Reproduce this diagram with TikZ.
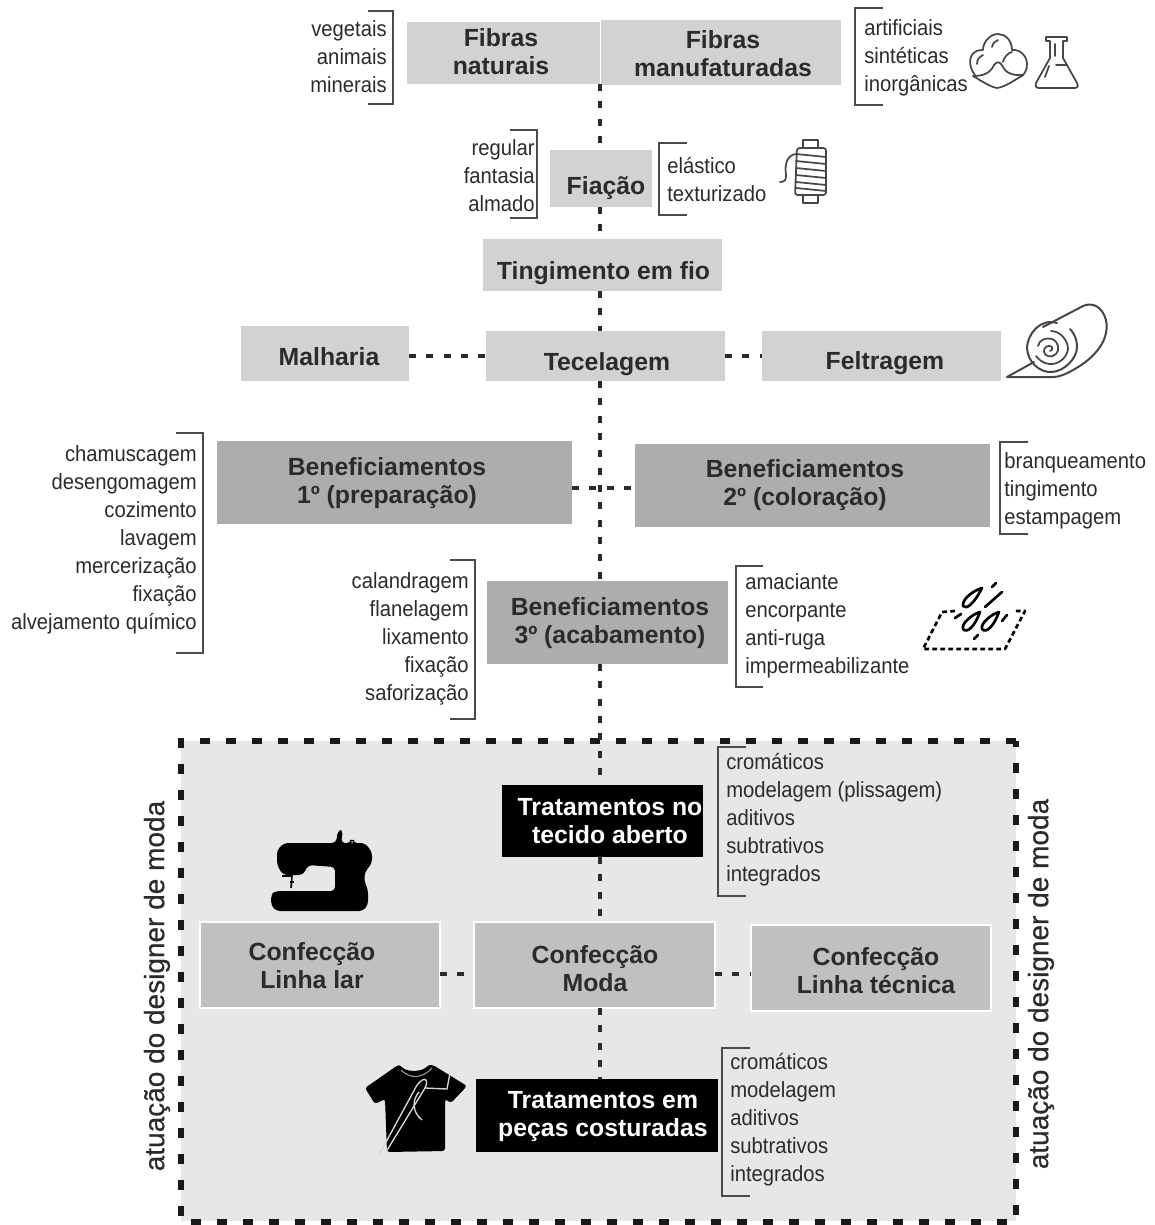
\documentclass[tikz,border=0pt]{standalone}
\usepackage{fontspec}
\setmainfont{Liberation Sans}
\newfontfamily\labfont[FakeStretch=0.92]{Liberation Sans}
\newfontfamily\sidefont[FakeBold=0.5]{Liberation Sans}
\usetikzlibrary{calc}
\definecolor{inkc}{HTML}{2B2B2B}
\definecolor{lightg}{HTML}{D2D2D2}
\definecolor{midg}{HTML}{ADADAD}
\definecolor{confg}{HTML}{C0C0C0}
\definecolor{panelg}{HTML}{E8E7E7}
\definecolor{iconc}{HTML}{4A4542}
\newcommand{\bx}[6]{%
 \node[#6,minimum width={(#4-#3)*0.75pt},minimum height={(#5-#2)*0.75pt}] (#1) at ({(#3+#4)/2},{(#2+#5)/2}) {};}
\tikzset{
 boxbase/.style={inner sep=0pt,outer sep=0pt},
 lightbox/.style={boxbase,fill=lightg},
 midbox/.style={boxbase,fill=midg},
 confbox/.style={boxbase,fill=confg,draw=white,line width=1pt},
 blackbox/.style={boxbase,fill=black},
 boxtext/.style={inner sep=0pt,align=center,font=\fontsize{18.6}{21}\selectfont\bfseries,text=inkc},
 whitetext/.style={boxtext,text=white},
 lableft/.style={inner sep=0pt,anchor=west,align=left,text=inkc,font=\fontsize{16.5}{21}\labfont},
 labright/.style={inner sep=0pt,anchor=east,align=right,text=inkc,font=\fontsize{16.5}{21}\labfont},
 brk/.style={draw=inkc!85,line width=.9pt},
 spine/.style={draw=inkc,line width=2.6pt,dash pattern=on 5.2pt off 7.8pt},
 icon/.style={draw=iconc,line width=1.3pt,line join=round,line cap=round},
 dropline/.style={draw=black,line width=2pt,line cap=round,line join=round},
 sidetext/.style={rotate=90,inner sep=0pt,text=inkc,font=\fontsize{21}{24}\sidefont},
}
\begin{document}
\begin{tikzpicture}[x=0.75pt,y=-0.75pt]
\useasboundingbox (0,0) rectangle (1154,1225);
% panel
\fill[panelg] (181,741) rectangle (1016,1221);
\draw[black!90,line width=3.8pt,dash pattern=on 7.5pt off 12pt] (1016,741) -- (181,741) -- (181,1222) -- (1016,1222) -- cycle;
% boxes
\bx{fn}{22}{407}{600}{84}{lightbox}
\bx{fm}{20}{601}{841}{85}{lightbox}
\bx{fia}{150}{550}{652}{207}{lightbox}
\bx{tin}{239}{483}{722}{291}{lightbox}
\bx{mal}{326}{241}{409}{381}{lightbox}
\bx{tec}{331}{486}{725}{381}{lightbox}
\bx{fel}{331}{762}{1001}{381}{lightbox}
\bx{ben1}{441}{217}{572}{524}{midbox}
\bx{ben2}{444}{635}{990}{527}{midbox}
\bx{ben3}{581}{487}{728}{664}{midbox}
\bx{tta}{785}{502}{703}{857}{blackbox}
\bx{cl}{922}{200}{440}{1008}{confbox}
\bx{cm}{922}{474}{715}{1008}{confbox}
\bx{ct}{925}{751}{991}{1011}{confbox}
\bx{tpc}{1079}{476}{718}{1152}{blackbox}
% box texts
\node[boxtext] (tfn) at (501,52) {Fibras\\naturais};
\node[boxtext] (tfm) at (723,54) {Fibras\\manufaturadas};
\node[boxtext] (tfia) at (606,188) {Fiação};
\node[boxtext] (ttin) at (603.5,273) {Tingimento em fio};
\node[boxtext] (tmal) at (329,357) {Malharia};
\node[boxtext] (ttec) at (607,364) {Tecelagem};
\node[boxtext] (tfel) at (885,363) {Feltragem};
\node[boxtext] (tben1) at (387,483) {Beneficiamentos\\1º (preparação)};
\node[boxtext] (tben2) at (805,485) {Beneficiamentos\\2º (coloração)};
\node[boxtext] (tben3) at (610,623) {Beneficiamentos\\3º (acabamento)};
\node[whitetext] (ttta) at (610,821) {Tratamentos no\\tecido aberto};
\node[boxtext] (tcl) at (312,966) {Confecção\\Linha lar};
\node[boxtext] (tcm) at (595,969) {Confecção\\Moda};
\node[boxtext] (tct) at (876,971) {Confecção\\Linha técnica};
\node[whitetext] (ttpc) at (603,1117) {Tratamentos em\\peças costuradas};
% connectors
\coordinate (sx) at (600,0);
\coordinate (hy) at (0,356);
\coordinate (hz) at (0,488);
\coordinate (hc) at (0,974);
\draw[spine] (fn.south east) -- (fia.north -| sx);
\draw[spine] (fia.south -| sx) -- (tin.north -| sx);
\draw[spine] (tin.south -| sx) -- (tec.north -| sx);
\draw[spine] (tec.south -| sx) -- (ben3.north -| sx);
\draw[spine] (ben3.south -| sx) -- (tta.north -| sx);
\draw[spine] (tta.south -| sx) -- (cm.north -| sx);
\draw[spine] (cm.south -| sx) -- (tpc.north -| sx);
\draw[spine] (mal.east |- hy) -- (tec.west |- hy);
\draw[spine] (tec.east |- hy) -- (fel.west |- hy);
\draw[spine] (ben1.east |- hz) -- (ben2.west |- hz);
\draw[spine] (cl.east |- hc) -- (cm.west |- hc);
\draw[spine] (cm.east |- hc) -- (ct.west |- hc);
% labels
\node[labright] (l1) at (387,57) {vegetais\\animais\\minerais};
\node[lableft] (l2) at (864,58) {artificiais\\sintéticas\\inorgânicas};
\node[labright] (l3) at (535,176) {regular\\fantasia\\almado};
\node[lableft] (l4) at (667,180) {elástico\\texturizado};
\node[labright] (l5) at (197,540) {chamuscagem\\desengomagem\\cozimento\\lavagem\\mercerização\\fixação\\alvejamento químico};
\node[lableft] (l6) at (1004,491) {branqueamento\\tingimento\\estampagem};
\node[labright] (l7) at (469,639) {calandragem\\flanelagem\\lixamento\\fixação\\saforização};
\node[lableft] (l8) at (745,626) {amaciante\\encorpante\\anti-ruga\\impermeabilizante};
\node[lableft] (l9) at (726,820) {cromáticos\\modelagem (plissagem)\\aditivos\\subtrativos\\integrados};
\node[lableft] (l10) at (730,1120) {cromáticos\\modelagem\\aditivos\\subtrativos\\integrados};
% brackets
\draw[brk] (368,11) -- (393,11) -- (393,104) -- (368,104);
\draw[brk] (883,8) -- (855,8) -- (855,105) -- (883,105);
\draw[brk] (510,130) -- (537,130) -- (537,218) -- (510,218);
\draw[brk] (687,143) -- (659,143) -- (659,215) -- (687,215);
\draw[brk] (176,433) -- (203,433) -- (203,653) -- (176,653);
\draw[brk] (1028,442) -- (1000,442) -- (1000,534) -- (1028,534);
\draw[brk] (450,560) -- (475,560) -- (475,719) -- (450,719);
\draw[brk] (763,566) -- (736,566) -- (736,687) -- (763,687);
\draw[brk] (746,747) -- (718,747) -- (718,896) -- (746,896);
\draw[brk] (750,1048) -- (722,1048) -- (722,1196) -- (750,1196);
% side texts
\node[sidetext] (s1) at (157,986) {atuação do designer de moda};
\node[sidetext] (s2) at (1041,984) {atuação do designer de moda};
% cotton
\draw[icon] (975,75) .. controls (969,68) and (968,56) .. (975,52) .. controls (978,50) and (981,50) .. (983,50) .. controls (983,42) and (990,34) .. (998,34) .. controls (1005,34) and (1012,40) .. (1012,50) .. controls (1020,49) and (1027,56) .. (1027,64) .. controls (1027,70) and (1025,73) .. (1022,76);
\draw[icon] (973,76) .. controls (982,76) and (990,74) .. (994,65) .. controls (997,61) and (1000,61) .. (1003,67) .. controls (1005,72) and (1012,76) .. (1023,75);
\draw[icon] (973,76) .. controls (980,80) and (990,87) .. (997,88) .. controls (1005,87) and (1015,80) .. (1023,75);
\draw[icon] (977,64) .. controls (977,60) and (979,57) .. (983,55);
\draw[icon] (992,47) .. controls (993,43) and (995,41) .. (998,40);
\draw[icon] (1003,62) .. controls (1004,57) and (1008,53) .. (1012,52);
% flask
\draw[icon] (1046,37) -- (1067,37) -- (1067,41) -- (1063,41) -- (1063,58) -- (1077,83) .. controls (1079,87) and (1077,88) .. (1074,88) -- (1039,88) .. controls (1036,88) and (1035,86) .. (1036,83) -- (1050,58) -- (1050,41) -- (1046,41) -- cycle;
\draw[icon] (1055,44) -- (1055,56);
\draw[icon] (1056,65) -- (1067,65);
\draw[icon] (1049,66) -- (1045,77);
% spool
\draw[icon] (803,148) -- (803,140) -- (818,140) -- (818,148);
\draw[icon] (803,195) -- (803,203) -- (818,203) -- (818,195);
\draw[icon,rounded corners=2pt] (797,148) -- (826,148) -- (826,195) -- (795,195) -- cycle;
\foreach \a in {154,161,168,175,182,188}{\draw[icon] (796,\a) -- (826,\a+3);}
\draw[icon] (780,182) .. controls (790,182) and (784,172) .. (786,165) .. controls (787,157) and (792,154) .. (797,154);
% roll
\draw[icon,line width=1.5pt] (1007,377) -- (1034,362);
\draw[icon,line width=1.5pt] (1007,377) -- (1052,377) .. controls (1060,377) and (1066,374) .. (1073,370) .. controls (1095,358) and (1110,340) .. (1106,320) .. controls (1102,306) and (1092,302) .. (1083,306) -- (1043,327);
\draw[icon,line width=1.5pt] (1057,323) .. controls (1040,318) and (1028,334) .. (1027,347) .. controls (1027,362) and (1040,373) .. (1052,372) .. controls (1065,371) and (1077,358) .. (1077,347) .. controls (1077,338) and (1073,332) .. (1070,329);
\draw[icon,line width=1.3pt] (1051,331) .. controls (1060,331) and (1068,340) .. (1068,349) .. controls (1067,358) and (1058,365) .. (1049,364) .. controls (1043,363) and (1039,360) .. (1036,356);
\draw[icon,line width=1.3pt] (1038,346) .. controls (1039,340) and (1046,337) .. (1052,339) .. controls (1059,342) and (1060,350) .. (1056,354) .. controls (1052,358) and (1045,357) .. (1044,352) .. controls (1043,347) and (1049,344) .. (1052,347) .. controls (1053,349) and (1052,351) .. (1050,351);
% drops icon
\draw[dropline,line cap=butt,dash pattern=on 3.6pt off 2.4pt] (955,611) -- (942,612) -- (923,649) -- (1005,649) -- (1025,611) -- (1013,611);
\draw[dropline] (982,588) .. controls (975,590) and (962,598) .. (963,606) .. controls (966,610) and (974,604) .. (982,588) -- cycle;
\draw[dropline] (980,612) .. controls (973,614) and (961,623) .. (963,629) .. controls (967,634) and (975,626) .. (980,612) -- cycle;
\draw[dropline] (999,612) .. controls (992,614) and (980,623) .. (982,629) .. controls (986,634) and (994,626) .. (999,612) -- cycle;
\draw[dropline] (1002,592) -- (985,607);
\draw[dropline] (992,587) -- (996,583);
\draw[dropline] (955,618) -- (961,614);
\draw[dropline] (1002,621) -- (1007,615);
\draw[dropline] (974,639) -- (978,635);
% sewing machine
\fill[black,rounded corners=3pt] (277,865) -- (277,850) -- (284,843) -- (336,843) -- (338,830) -- (343,830) -- (341,843) -- (351,843) -- (351,840) -- (353,840) -- (353,843) -- (365,843) -- (372,852) -- (372,863) -- (365,872) -- (364,880) -- (368,890) -- (368,905) -- (363,911) -- (276,911) -- (271,905) -- (271,895) -- (275,891) -- (335,891) -- (335,867) -- (308,865) -- (303,875) -- (283,875) -- cycle;
\draw[black,line width=1.2pt] (282,876) -- (292,876) -- (291,888);
\draw[black,line width=1.2pt] (290,882) -- (294,882);
% t-shirt
\fill[black,rounded corners=2pt] (365,1088) -- (398,1065) -- (401,1066) .. controls (407,1072) and (422,1072) .. (428,1065) -- (433,1065) -- (467,1086) -- (451,1103) -- (445,1099) -- (445,1151) -- (387,1152) -- (385,1099) -- (375,1104) -- cycle;
\draw[white!60!black,line width=.8pt] (401,1070) .. controls (410,1079) and (422,1079) .. (432,1068);
\draw[white!85!black,line width=1pt] (425,1088) -- (447,1089) -- (450,1073);
\draw[white!85!black,line width=1pt] (379,1155) -- (417,1085) .. controls (425,1075) and (429,1080) .. (425,1088) -- (386,1152);
\draw[white!85!black,line width=1pt] (419,1092) .. controls (412,1100) and (412,1112) .. (422,1120);
\end{tikzpicture}
\end{document}
